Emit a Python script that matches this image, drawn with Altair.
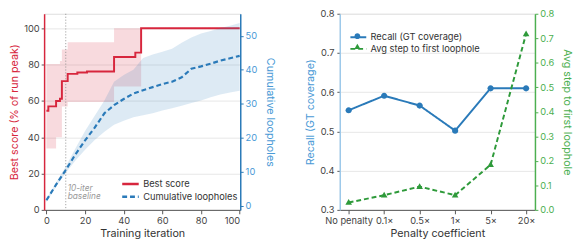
import altair as alt
import pandas as pd

# ---------------- Left panel data ----------------
step_iter = [0, 1, 5, 7, 8, 11, 16, 21, 35, 46, 49, 100]
best_score = [54.6, 57.0, 60.0, 61.2, 70.9, 74.9, 75.6, 76.2, 84.2, 86.6, 100, 100]

band_iter = [0, 5, 7, 8, 11, 35, 49]
best_lo = [33.8, 40.0, 40.0, 56.9, 59.4, 68.0, 100]
best_hi = [80.3, 80.3, 82.0, 88.3, 92.3, 100, 100]

loop_iter = [0, 5, 10, 15, 20, 25, 30, 35, 40, 45, 50, 55, 60, 65, 70, 75, 80, 85, 90, 95, 100]
loop_mean = [1.6, 6.2, 10.5, 15.1, 19.2, 23.0, 27.2, 29.6, 31.4, 33.0, 34.0, 34.9, 35.8, 36.5, 37.8, 40.3, 41.0, 41.8, 42.7, 43.4, 44.1]
loop_lo = [1.0, 5.6, 9.6, 13.3, 16.5, 19.3, 21.8, 23.8, 25.0, 26.0, 26.6, 27.2, 28.0, 28.7, 29.4, 30.2, 31.0, 31.9, 32.7, 33.3, 33.8]
loop_hi = [2.0, 6.8, 11.5, 16.8, 22.0, 26.5, 31.0, 36.5, 38.5, 40.0, 43.5, 44.5, 45.3, 46.2, 48.0, 49.5, 50.7, 51.4, 52.3, 53.0, 53.8]

x_ticks_left = [0, 20, 40, 60, 80, 100]
y_ticks_score = [0, 20, 40, 60, 80, 100]
y_ticks_loop = [0, 10, 20, 30, 40, 50]
baseline_iter = [10]

# ---------------- Right panel data ----------------
penalty = ["No penalty", "0.1×", "0.5×", "1×", "5×", "20×"]
recall = [0.554, 0.591, 0.566, 0.502, 0.610, 0.610]
avg_step = [0.030, 0.060, 0.095, 0.060, 0.184, 0.718]
y_ticks_recall = [0.3, 0.4, 0.5, 0.6, 0.7, 0.8]
y_ticks_step = [0.0, 0.1, 0.2, 0.3, 0.4, 0.5, 0.6, 0.7, 0.8]

FONT = "Inter"
RED = "#d7263d"
BLUE = "#2a7ab9"
BLUE_LT = "#4a9ad6"
GREEN = "#2e9a3a"
GREEN_AX = "#4caf50"
DARK = "#444444"
GRID = "#e6e6e6"
H = 201

LEFT_SERIES = ["Best score", "Cumulative loopholes"]
RIGHT_SERIES = ["Recall (GT coverage)", "Avg step to first loophole"]

best_df = pd.DataFrame({"iter": step_iter, "val": best_score, "series": LEFT_SERIES[0]})
band_df = pd.DataFrame({"iter": band_iter, "lo": best_lo, "hi": best_hi})
loop_df = pd.DataFrame({"iter": loop_iter, "val": loop_mean, "lo": loop_lo, "hi": loop_hi,
                        "series": LEFT_SERIES[1]})
base_df = pd.DataFrame({"iter": baseline_iter})

xscale = alt.Scale(domain=[-1.2, 100.3], nice=False, zero=False)
xaxis = alt.Axis(values=x_ticks_left, title="Training iteration", grid=False,
                 domainColor="#555", tickColor="#555", tickSize=4, labelColor=DARK,
                 titleColor="#333", labelFontSize=9.5, titleFontSize=11, titlePadding=3)
X = alt.X("iter:Q", scale=xscale, axis=xaxis)

yscore_scale = alt.Scale(domain=[0, 108], nice=False)
yscore_axis = alt.Axis(values=y_ticks_score, title="Best score (% of run peak)", grid=True,
                       gridColor=GRID, domainColor=RED, domainWidth=1.5, tickColor="#555",
                       tickSize=3, labelColor=DARK, titleColor=RED, labelFontSize=9.5,
                       titleFontSize=11)
yloop_scale = alt.Scale(domain=[-1.24, 56.5], nice=False, zero=False)
yloop_axis = alt.Axis(values=y_ticks_loop, title="Cumulative loopholes", orient="right",
                      grid=False, domainColor=BLUE, domainWidth=1.5, tickColor=BLUE,
                      tickSize=3, labelColor=BLUE_LT, titleColor=BLUE_LT, labelFontSize=9.5,
                      titleFontSize=11, titlePadding=8)

left_legend = alt.Legend(title=None, orient="none", legendX=80.5, legendY=166.5, padding=0,
                         symbolType="M-1.3,0H1.3", symbolSize=169, symbolStrokeWidth=2.5,
                         labelFontSize=9.5, labelColor="#333", rowPadding=0, labelOffset=5)
left_color = alt.Color("series:N", scale=alt.Scale(domain=LEFT_SERIES, range=[RED, BLUE]),
                       legend=left_legend)
left_dash = alt.StrokeDash("series:N",
                           scale=alt.Scale(domain=LEFT_SERIES, range=[[1, 0], [5, 3]]),
                           legend=left_legend)

red_band = alt.Chart(band_df).mark_area(interpolate="step-after", color=RED, opacity=0.17).encode(
    x=X, y=alt.Y("lo:Q", scale=yscore_scale, axis=yscore_axis), y2="hi:Q")
red_line = alt.Chart(best_df).mark_line(interpolate="step-after", strokeWidth=2).encode(
    x=X, y=alt.Y("val:Q", scale=yscore_scale, axis=yscore_axis), color=left_color,
    strokeDash=left_dash)
vrule = alt.Chart(base_df).mark_rule(color="#8a8a8a", strokeDash=[1.2, 1.8], strokeWidth=0.8).encode(
    x=X)
vtext = alt.Chart(base_df).mark_text(align="left", baseline="middle", fontStyle="italic",
                                     color="#9a9a9a", fontSize=8.5, lineBreak="\n",
                                     lineHeight=8, dx=2, font=FONT).encode(
    x=X, y=alt.datum(12), text=alt.value("10-iter\nbaseline"))

blue_band = alt.Chart(loop_df).mark_area(color=BLUE, opacity=0.16).encode(
    x=X, y=alt.Y("lo:Q", scale=yloop_scale, axis=yloop_axis), y2="hi:Q")
blue_line = alt.Chart(loop_df).mark_line(strokeWidth=2.2).encode(
    x=X, y=alt.Y("val:Q", scale=yloop_scale, axis=yloop_axis), color=left_color,
    strokeDash=left_dash)

left_layer = alt.layer(alt.layer(red_band, vrule, vtext, red_line),
                       alt.layer(blue_band, blue_line)).resolve_scale(y="independent").properties(
    width=201, height=H)

# ---------------- Right panel ----------------
rec_df = pd.DataFrame({"penalty": penalty, "val": recall, "series": RIGHT_SERIES[0]})
stp_df = pd.DataFrame({"penalty": penalty, "val": avg_step, "series": RIGHT_SERIES[1]})

BLUE2 = "#2a7ab9"
rx = alt.X("penalty:N", sort=penalty, scale=alt.Scale(type="point", padding=0.25),
           axis=alt.Axis(labelAngle=0, title="Penalty coefficient", domainColor="#555",
                         tickColor="#555", tickSize=4, labelColor=DARK, titleColor="#333",
                         labelFontSize=9.5, titleFontSize=11, titlePadding=3))
ry1 = alt.Y("val:Q", scale=alt.Scale(domain=[0.3, 0.8], nice=False, zero=False),
            axis=alt.Axis(values=y_ticks_recall, format=".1f", title="Recall (GT coverage)",
                          grid=True, gridColor=GRID, domainColor="#9dc9ea", domainWidth=1.5,
                          tickColor="#555", tickSize=3, labelColor=DARK, titleColor=BLUE_LT,
                          labelFontSize=9.5, titleFontSize=11, labelPadding=3))
ry2 = alt.Y("val:Q", scale=alt.Scale(domain=[0, 0.8], nice=False),
            axis=alt.Axis(values=y_ticks_step, format=".1f", title="Avg step to first loophole",
                          orient="right", grid=False, domainColor=GREEN_AX, domainWidth=1.5,
                          tickColor=GREEN_AX, tickSize=3, labelColor=GREEN_AX,
                          titleColor=GREEN_AX, labelFontSize=9.5, titleFontSize=11,
                          labelPadding=2, titlePadding=8))

RCOLORS = [BLUE2, GREEN]
# marker shapes drawn small inside the unit box so that legend rows stay 13px high
MARKERS = ["M-0.45,0A0.45,0.45,0,1,1,0.45,0A0.45,0.45,0,1,1,-0.45,0Z",
           "M0,-0.5L0.48,0.33L-0.48,0.33Z"]
LEG_KW = dict(title=None, orient="none", legendX=11.5, legendY=16.5, padding=0,
              symbolSize=169, labelFontSize=9.5, rowPadding=0, labelOffset=5)
line_legend = alt.Legend(symbolType="M-1.25,0H1.25", symbolStrokeWidth=2, labelColor="#333",
                         **LEG_KW)
# marker legend drawn over the line legend (same place, no labels)
mark_legend = alt.Legend(values=RIGHT_SERIES, labelExpr="''", symbolStrokeWidth=0, **LEG_KW)
MARK_DOMAIN = RIGHT_SERIES + [" "]

rcol = alt.Color("series:N", scale=alt.Scale(domain=RIGHT_SERIES, range=RCOLORS),
                 legend=line_legend)
rdash = alt.StrokeDash("series:N", scale=alt.Scale(domain=RIGHT_SERIES, range=[[1, 0], [5, 3]]),
                       legend=line_legend)
pfill = alt.Fill("series:N", scale=alt.Scale(domain=MARK_DOMAIN, range=RCOLORS + ["#999999"]),
                 legend=mark_legend)
pshape = alt.Shape("series:N", scale=alt.Scale(domain=MARK_DOMAIN, range=MARKERS + [MARKERS[0]]),
                   legend=mark_legend)

rec_line = alt.Chart(rec_df).mark_line(strokeWidth=2).encode(x=rx, y=ry1, color=rcol,
                                                             strokeDash=rdash)
rec_pts = alt.Chart(rec_df).mark_point(filled=True, size=200, opacity=1, strokeWidth=0).encode(
    x=rx, y=ry1, fill=pfill, shape=pshape)
stp_line = alt.Chart(stp_df).mark_line(strokeWidth=2).encode(x=rx, y=ry2, color=rcol,
                                                             strokeDash=rdash)
stp_pts = alt.Chart(stp_df).mark_point(filled=True, size=200, opacity=1, strokeWidth=0).encode(
    x=rx, y=ry2, fill=pfill, shape=pshape)

right_layer = alt.layer(alt.layer(rec_line, rec_pts), alt.layer(stp_line, stp_pts)).resolve_scale(
    y="independent").properties(width=200, height=H)

chart = alt.hconcat(left_layer, right_layer, spacing=28).resolve_scale(
    color="independent", strokeDash="independent", fill="independent",
    shape="independent").properties(
    padding={"left": 0, "top": -3, "right": 0, "bottom": 0}).configure_view(
    stroke=None).configure(font=FONT).configure_axis(labelFont=FONT, titleFont=FONT,
                                                     titleFontWeight="normal").configure_legend(
    labelFont=FONT)

chart.save("out.html", embed_options={"renderer": "svg", "actions": False})
